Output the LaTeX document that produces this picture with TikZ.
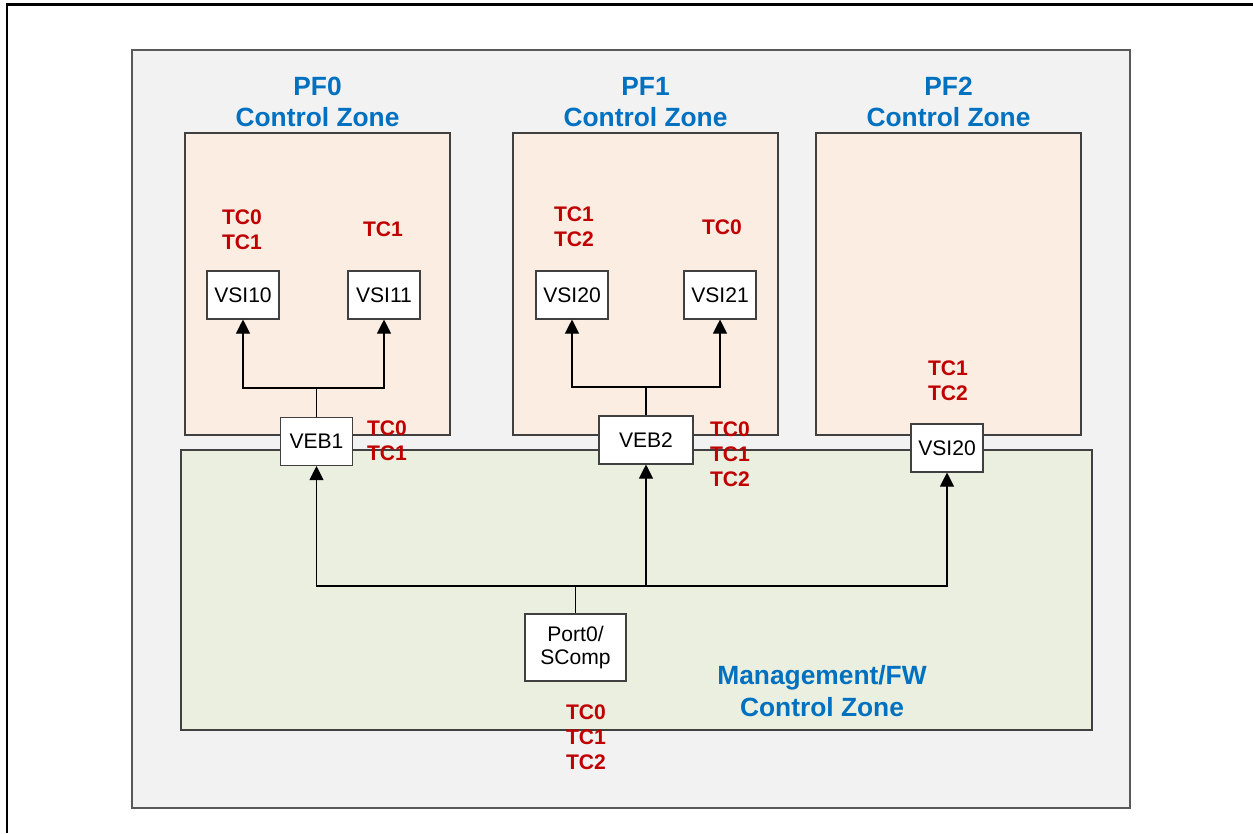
\documentclass[tikz,border=0pt]{standalone}
\usepackage{fontspec}
\setmainfont{Liberation Sans}
\usetikzlibrary{arrows.meta}
\definecolor{cPanel}{HTML}{F2F2F2}
\definecolor{cPF}{HTML}{FCEDE2}
\definecolor{cMgmt}{HTML}{EBEFDF}
\definecolor{cTitle}{HTML}{0070C0}
\definecolor{cTC}{HTML}{C00000}
\definecolor{cLine}{HTML}{404040}
\tikzset{
    panel/.style ={draw=black!65, line width=1pt, fill=cPanel},
    zone/.style  ={draw=cLine, line width=0.6pt, fill=cPF},
    mgmt/.style  ={draw=cLine, line width=0.6pt, fill=cMgmt},
    dev/.style   ={draw=cLine, line width=0.6pt, fill=white, align=center,
                   font=\fontsize{12}{13.6}\selectfont, inner sep=2pt,
                   minimum width=1.44cm, minimum height=0.96cm},
    title/.style ={text=cTitle, align=center,
                   font=\bfseries\fontsize{15}{18}\selectfont},
    tc/.style    ={text=cTC, align=center, inner sep=1pt,
                   font=\bfseries\fontsize{12}{14.2}\selectfont},
    link/.style  ={line width=0.6pt, black},
    arr/.style   ={link, -{Triangle[width=8pt, length=8pt]}},
}

\begin{document}
\begin{tikzpicture}[x=0.02cm, y=-0.02cm]
\useasboundingbox (0,0) rectangle (1253,833);

% ===================== Marco y fondo =====================
\draw[line width=1.7pt] (7,833) -- (7,4) -- (1253,4);
\draw[panel] (132,50) rectangle (1130,808);

% ===================== Zonas =====================
\draw[zone] (185,133) rectangle (450,435);
\draw[zone] (513,133) rectangle (778,435);
\draw[zone] (816,133) rectangle (1081,435);
\draw[mgmt] (181,450) rectangle (1092,730);

\node[title] (t0) at (317.5,102) {PF0\\Control Zone};
\node[title] (t1) at (645.5,102) {PF1\\Control Zone};
\node[title] (t2) at (948.5,102) {PF2\\Control Zone};
\node[title] (tm) at (822,691) {Management/FW\\Control Zone};

% ===================== Dispositivos =====================
\node[dev] (vsi10) at (243,295) {VSI10};
\node[dev] (vsi11) at (384,295) {VSI11};
\node[dev] (veb1)  at (316.5,441.5) {VEB1};
\node[dev] (vsi20) at (572,295) {VSI20};
\node[dev] (vsi21) at (720,295) {VSI21};
\node[dev, minimum width=1.88cm] (veb2) at (646,440) {VEB2};
\node[dev] (vsi2f) at (947,448) {VSI20};
\node[dev, minimum width=2.02cm, minimum height=1.34cm] (port) at (575.5,647.5)
     {Port0/\\SComp};

% ===================== Conexiones =====================
\coordinate (s1) at (316.5,388);
\draw[link] (veb1.north) -- (s1);
\draw[arr] (s1) -| (vsi10.south);
\draw[arr] (s1) -| (vsi11.south);

\coordinate (s2) at (646,387);
\draw[link] (veb2.north) -- (s2);
\draw[arr] (s2) -| (vsi20.south);
\draw[arr] (s2) -| (vsi21.south);

\coordinate (sm) at (575.5,586);
\draw[link] (port.north) -- (sm);
\draw[arr] (sm) -| (veb1.south);
\draw[arr] (sm) -| (veb2.south);
\draw[arr] (sm) -| (vsi2f.south);

% ===================== Clases de trafico =====================
\node[tc] (tc10) at (242,229.5) {TC0\\TC1};
\node[tc] (tc11) at (383,229) {TC1};
\node[tc] (tcv1) at (387,440.5) {TC0\\TC1};
\node[tc] (tc20) at (574,227) {TC1\\TC2};
\node[tc] (tc21) at (722,227) {TC0};
\node[tc] (tcv2) at (730,454.5) {TC0\\TC1\\TC2};
\node[tc] (tcf2) at (948,380.5) {TC1\\TC2};
\node[tc] (tcp)  at (586,737) {TC0\\TC1\\TC2};

\end{tikzpicture}
\end{document}
